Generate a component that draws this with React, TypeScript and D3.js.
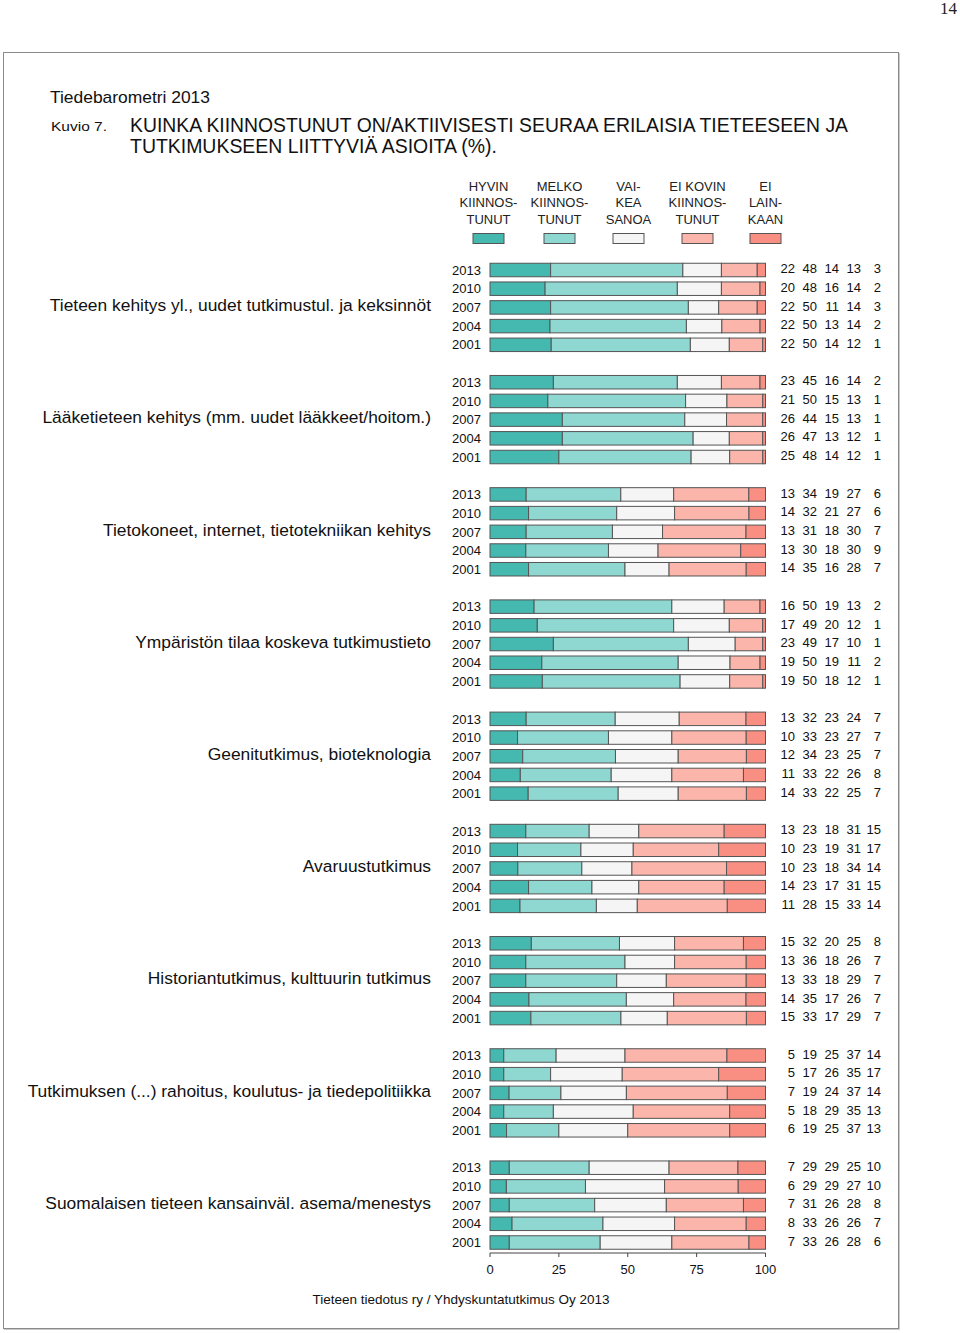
import React from "react";
import * as d3 from "d3";

const categories = [
  "Tieteen kehitys yl., uudet tutkimustul. ja keksinnöt",
  "Lääketieteen kehitys (mm. uudet lääkkeet/hoitom.)",
  "Tietokoneet, internet, tietotekniikan kehitys",
  "Ympäristön tilaa koskeva tutkimustieto",
  "Geenitutkimus, bioteknologia",
  "Avaruustutkimus",
  "Historiantutkimus, kulttuurin tutkimus",
  "Tutkimuksen (...) rahoitus, koulutus- ja tiedepolitiikka",
  "Suomalaisen tieteen kansainväl. asema/menestys",
];

const years = ["2013", "2010", "2007", "2004", "2001"];

const legendLabels = [
  ["HYVIN", "KIINNOS-", "TUNUT"],
  ["MELKO", "KIINNOS-", "TUNUT"],
  ["VAI-", "KEA", "SANOA"],
  ["EI KOVIN", "KIINNOS-", "TUNUT"],
  ["EI", "LAIN-", "KAAN"],
];

const colors = ["#45b8b0", "#8fd7d1", "#f5f5f5", "#fbb5aa", "#f98f82"];

// values[group][yearIndex] = [hyvin, melko, vaikea, ei kovin, ei lainkaan]
const tieteenKehitys = [[22, 48, 14, 13, 3], [20, 48, 16, 14, 2], [22, 50, 11, 14, 3], [22, 50, 13, 14, 2], [22, 50, 14, 12, 1]];
const laaketiede = [[23, 45, 16, 14, 2], [21, 50, 15, 13, 1], [26, 44, 15, 13, 1], [26, 47, 13, 12, 1], [25, 48, 14, 12, 1]];
const tietokoneet = [[13, 34, 19, 27, 6], [14, 32, 21, 27, 6], [13, 31, 18, 30, 7], [13, 30, 18, 30, 9], [14, 35, 16, 28, 7]];
const ymparisto = [[16, 50, 19, 13, 2], [17, 49, 20, 12, 1], [23, 49, 17, 10, 1], [19, 50, 19, 11, 2], [19, 50, 18, 12, 1]];
const geeni = [[13, 32, 23, 24, 7], [10, 33, 23, 27, 7], [12, 34, 23, 25, 7], [11, 33, 22, 26, 8], [14, 33, 22, 25, 7]];
const avaruus = [[13, 23, 18, 31, 15], [10, 23, 19, 31, 17], [10, 23, 18, 34, 14], [14, 23, 17, 31, 15], [11, 28, 15, 33, 14]];
const historia = [[15, 32, 20, 25, 8], [13, 36, 18, 26, 7], [13, 33, 18, 29, 7], [14, 35, 17, 26, 7], [15, 33, 17, 29, 7]];
const rahoitus = [[5, 19, 25, 37, 14], [5, 17, 26, 35, 17], [7, 19, 24, 37, 14], [5, 18, 29, 35, 13], [6, 19, 25, 37, 13]];
const kansainval = [[7, 29, 29, 25, 10], [6, 29, 29, 27, 10], [7, 31, 26, 28, 8], [8, 33, 26, 26, 7], [7, 33, 26, 28, 6]];

const groups = [tieteenKehitys, laaketiede, tietokoneet, ymparisto, geeni, avaruus, historia, rahoitus, kansainval];

const axisTicks = [0, 25, 50, 75, 100];

const FONT = "'Liberation Sans', Arial, Helvetica, sans-serif";
const NARROW = "'Liberation Sans Narrow', 'Arial Narrow', 'Liberation Sans', Arial, sans-serif";

export default function App() {
  const x = d3.scaleLinear().domain([0, 100]).range([490, 765.5]);
  const slotsPerGroup = 6;
  const nSlots = groups.length * slotsPerGroup - 1;
  const y = d3.scaleLinear().domain([0, nSlots - 1]).range([270, 1242.5]);
  const barH = 13.5;
  const valueX = [795, 817, 839, 861, 881];
  const legendX = [488.5, 559.5, 628.5, 697.5, 765.5];

  return (
    <svg
      width={960}
      height={1333}
      style={{ position: "absolute", left: 0, top: 0, background: "#fff" }}
    >
      <rect x={0} y={0} width={960} height={1333} fill="#fff" />
      <text x={957} y={14} textAnchor="end" fontFamily="'Liberation Serif', 'Times New Roman', serif" fontSize={17} fill="#222">14</text>

      <rect x={3.5} y={52.5} width={895} height={1276} fill="none" stroke="#8a8a8a" strokeWidth={1} />
      <line x1={899.5} y1={53} x2={899.5} y2={1329.5} stroke="#c8c8c8" strokeWidth={1} />
      <line x1={4} y1={1329.5} x2={899.5} y2={1329.5} stroke="#c8c8c8" strokeWidth={1} />

      <text x={50} y={103} fontFamily={NARROW} fontSize={17} fill="#111" textLength={160} lengthAdjust="spacingAndGlyphs">Tiedebarometri 2013</text>
      <text x={51} y={131} fontFamily={NARROW} fontSize={13} fill="#111" textLength={56} lengthAdjust="spacingAndGlyphs">Kuvio 7.</text>
      <text x={130} y={132} fontFamily={NARROW} fontSize={20} fill="#111" textLength={718} lengthAdjust="spacingAndGlyphs">KUINKA KIINNOSTUNUT ON/AKTIIVISESTI SEURAA ERILAISIA TIETEESEEN JA</text>
      <text x={130} y={153} fontFamily={NARROW} fontSize={20} fill="#111" textLength={367} lengthAdjust="spacingAndGlyphs">TUTKIMUKSEEN LIITTYVIÄ ASIOITA (%).</text>

      {legendLabels.map((lines, i) => (
        <g key={"lg" + i}>
          {lines.map((ln, j) => (
            <text key={j} x={legendX[i]} y={191 + j * 16.3} textAnchor="middle" fontFamily={FONT} fontSize={13} fill="#222">{ln}</text>
          ))}
          <rect x={legendX[i] - 15.5} y={233.5} width={31} height={10} fill={colors[i]} stroke="#555" strokeWidth={1} />
        </g>
      ))}

      {groups.map((grp, gi) => (
        <g key={"g" + gi}>
          <text
            x={431}
            y={y(gi * slotsPerGroup + 2) - 2.5}
            dy="0.36em"
            textAnchor="end"
            fontFamily={FONT}
            fontSize={17.4}
            fill="#111"
          >
            {categories[gi]}
          </text>
          {grp.map((vals, ri) => {
            const cy = y(gi * slotsPerGroup + ri);
            const total = d3.sum(vals);
            const ends = d3.cumsum(vals.map((v) => (v / total) * 100));
            return (
              <g key={"r" + ri}>
                <text x={481} y={cy} dy="0.36em" textAnchor="end" fontFamily={FONT} fontSize={13} fill="#111">{years[ri]}</text>
                {vals.map((v, k) => {
                  const x0 = x(k === 0 ? 0 : ends[k - 1]);
                  const x1 = x(ends[k]);
                  return (
                    <rect
                      key={k}
                      x={x0}
                      y={cy - barH / 2}
                      width={Math.max(0, x1 - x0)}
                      height={barH}
                      fill={colors[k]}
                      stroke="#555"
                      strokeWidth={1}
                    />
                  );
                })}
                {vals.map((v, k) => (
                  <text key={"v" + k} x={valueX[k]} y={cy - 1.5} dy="0.36em" textAnchor="end" fontFamily={FONT} fontSize={13} fill="#111">{v}</text>
                ))}
              </g>
            );
          })}
        </g>
      ))}

      <g>
        <line x1={x(0)} x2={x(100)} y1={1253} y2={1253} stroke="#444" strokeWidth={1} />
        {axisTicks.map((t) => (
          <g key={"t" + t}>
            <line x1={x(t)} x2={x(t)} y1={1253} y2={1257} stroke="#444" strokeWidth={1} />
            <text x={x(t)} y={1269} dy="0.36em" textAnchor="middle" fontFamily={FONT} fontSize={13} fill="#111">{t}</text>
          </g>
        ))}
      </g>

      <text x={461} y={1299} dy="0.36em" textAnchor="middle" fontFamily={FONT} fontSize={13.5} fill="#111">Tieteen tiedotus ry / Yhdyskuntatutkimus Oy 2013</text>
    </svg>
  );
}
